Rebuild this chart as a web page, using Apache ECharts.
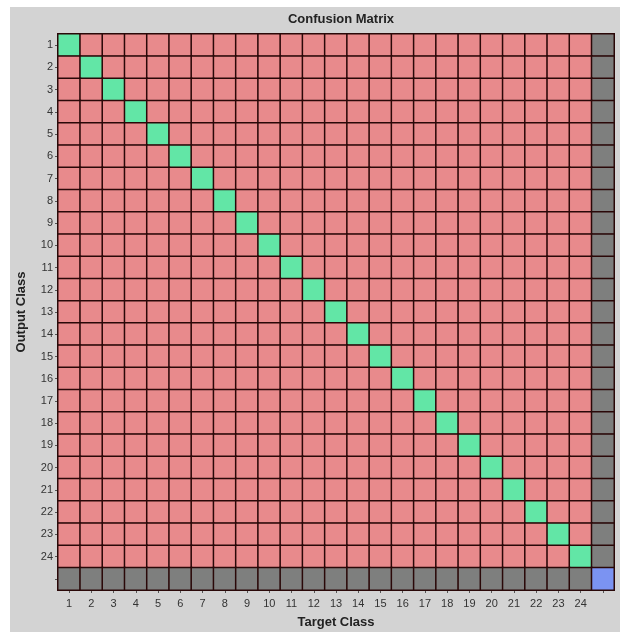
<!DOCTYPE html>
<html>
<head>
<meta charset="utf-8">
<script src="https://cdn.jsdelivr.net/npm/echarts@6/dist/echarts.min.js"></script>
<style>html,body{margin:0;padding:0;background:#fff}#c{width:629px;height:635px}</style>
</head>
<body>
<div id="c"></div>
<script>
// Class labels (last slot is the summary row/column, unlabeled)
const targetLabels = ['1','2','3','4','5','6','7','8','9','10','11','12','13','14','15','16','17','18','19','20','21','22','23','24',''];
const outputLabels = ['1','2','3','4','5','6','7','8','9','10','11','12','13','14','15','16','17','18','19','20','21','22','23','24',''];
// Confusion counts: rows = output class, cols = target class
const confusion = [
[1,0,0,0,0,0,0,0,0,0,0,0,0,0,0,0,0,0,0,0,0,0,0,0],
[0,1,0,0,0,0,0,0,0,0,0,0,0,0,0,0,0,0,0,0,0,0,0,0],
[0,0,1,0,0,0,0,0,0,0,0,0,0,0,0,0,0,0,0,0,0,0,0,0],
[0,0,0,1,0,0,0,0,0,0,0,0,0,0,0,0,0,0,0,0,0,0,0,0],
[0,0,0,0,1,0,0,0,0,0,0,0,0,0,0,0,0,0,0,0,0,0,0,0],
[0,0,0,0,0,1,0,0,0,0,0,0,0,0,0,0,0,0,0,0,0,0,0,0],
[0,0,0,0,0,0,1,0,0,0,0,0,0,0,0,0,0,0,0,0,0,0,0,0],
[0,0,0,0,0,0,0,1,0,0,0,0,0,0,0,0,0,0,0,0,0,0,0,0],
[0,0,0,0,0,0,0,0,1,0,0,0,0,0,0,0,0,0,0,0,0,0,0,0],
[0,0,0,0,0,0,0,0,0,1,0,0,0,0,0,0,0,0,0,0,0,0,0,0],
[0,0,0,0,0,0,0,0,0,0,1,0,0,0,0,0,0,0,0,0,0,0,0,0],
[0,0,0,0,0,0,0,0,0,0,0,1,0,0,0,0,0,0,0,0,0,0,0,0],
[0,0,0,0,0,0,0,0,0,0,0,0,1,0,0,0,0,0,0,0,0,0,0,0],
[0,0,0,0,0,0,0,0,0,0,0,0,0,1,0,0,0,0,0,0,0,0,0,0],
[0,0,0,0,0,0,0,0,0,0,0,0,0,0,1,0,0,0,0,0,0,0,0,0],
[0,0,0,0,0,0,0,0,0,0,0,0,0,0,0,1,0,0,0,0,0,0,0,0],
[0,0,0,0,0,0,0,0,0,0,0,0,0,0,0,0,1,0,0,0,0,0,0,0],
[0,0,0,0,0,0,0,0,0,0,0,0,0,0,0,0,0,1,0,0,0,0,0,0],
[0,0,0,0,0,0,0,0,0,0,0,0,0,0,0,0,0,0,1,0,0,0,0,0],
[0,0,0,0,0,0,0,0,0,0,0,0,0,0,0,0,0,0,0,1,0,0,0,0],
[0,0,0,0,0,0,0,0,0,0,0,0,0,0,0,0,0,0,0,0,1,0,0,0],
[0,0,0,0,0,0,0,0,0,0,0,0,0,0,0,0,0,0,0,0,0,1,0,0],
[0,0,0,0,0,0,0,0,0,0,0,0,0,0,0,0,0,0,0,0,0,0,1,0],
[0,0,0,0,0,0,0,0,0,0,0,0,0,0,0,0,0,0,0,0,0,0,0,1]
];
// Summary percentages (row: precision, column: recall, corner: overall)
const rowSummary = [100,100,100,100,100,100,100,100,100,100,100,100,100,100,100,100,100,100,100,100,100,100,100,100];
const colSummary = [100,100,100,100,100,100,100,100,100,100,100,100,100,100,100,100,100,100,100,100,100,100,100,100];
const overall = 100;

const COL_OK = '#62e6a6', COL_BAD = '#e88a8c', COL_SUM = '#7e7f7e', COL_ALL = '#7b93f2';
const n = confusion.length;
const data = [];
for (let r = 0; r < n; r++) {
  for (let c = 0; c < n; c++) {
    data.push({value: [c, r, confusion[r][c]], itemStyle: {color: r === c ? COL_OK : COL_BAD}});
  }
  data.push({value: [n, r, rowSummary[r]], itemStyle: {color: COL_SUM}});
}
for (let c = 0; c < n; c++) data.push({value: [c, n, colSummary[c]], itemStyle: {color: COL_SUM}});
data.push({value: [n, n, overall], itemStyle: {color: COL_ALL}});

const chart = echarts.init(document.getElementById('c'), null, {renderer: 'canvas'});
const FONT = 'Liberation Sans, Arial, sans-serif';
chart.setOption({
  backgroundColor: '#ffffff',
  animation: false,
  graphic: [{type: 'rect', z: -10, shape: {x: 10, y: 7, width: 610, height: 625}, style: {fill: '#d3d3d3'}}],
  title: {text: 'Confusion Matrix', left: 336, textAlign: 'center', top: 8,
    textStyle: {fontFamily: FONT, fontSize: 13, fontWeight: 'bold', color: '#222'}},
  grid: {left: 58, right: 15, top: 34, bottom: 45, containLabel: false},
  xAxis: {type: 'category', data: targetLabels, position: 'bottom',
    name: 'Target Class', nameLocation: 'middle', nameGap: 26,
    nameTextStyle: {fontFamily: FONT, fontSize: 13, fontWeight: 'bold', color: '#222'},
    axisLine: {show: true, lineStyle: {color: '#222', width: 1}},
    axisTick: {show: true, alignWithLabel: true, length: 3, lineStyle: {color: '#555'}},
    axisLabel: {fontFamily: FONT, fontSize: 11, color: '#333', margin: 8, interval: 0},
    splitLine: {show: false}, splitArea: {show: false}},
  yAxis: {type: 'category', data: outputLabels, inverse: true,
    name: 'Output Class', nameLocation: 'middle', nameGap: 30, nameRotate: 90,
    nameTextStyle: {fontFamily: FONT, fontSize: 13, fontWeight: 'bold', color: '#222'},
    axisLine: {show: true, lineStyle: {color: '#222', width: 1}},
    axisTick: {show: true, alignWithLabel: true, length: 3, lineStyle: {color: '#555'}},
    axisLabel: {fontFamily: FONT, fontSize: 11, color: '#333', margin: 5, interval: 0},
    splitLine: {show: false}, splitArea: {show: false}},
  series: [{type: 'heatmap', data: data,
    itemStyle: {borderColor: '#2a0808', borderWidth: 1.5},
    emphasis: {disabled: true}, label: {show: false}}]
});
</script>
</body>
</html>
